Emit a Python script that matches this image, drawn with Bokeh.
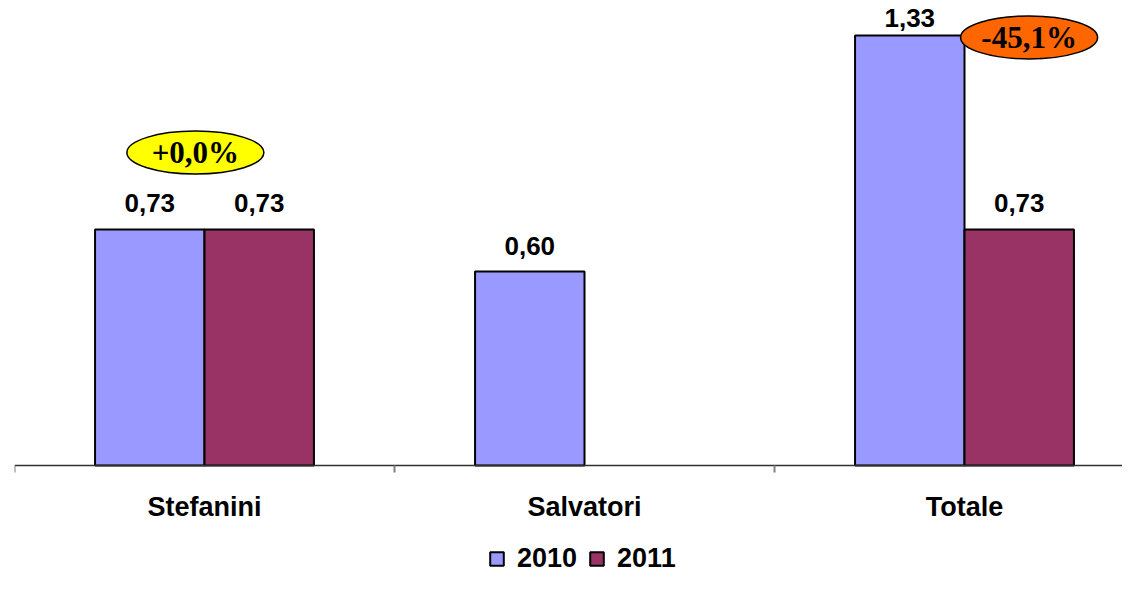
import numpy as np
from bokeh.plotting import figure
from bokeh.models import (ColumnDataSource, LinearAxis, FixedTicker, Legend,
                          LegendItem, Range1d)
from bokeh.core.properties import value
from bokeh.embed import file_html
from bokeh.resources import INLINE

# ---- data ----
categories = ["Stefanini", "Salvatori", "Totale"]
series_names = ["2010", "2011"]
values_2010 = [0.73, 0.60, 1.33]
values_2011 = [0.73, None, 0.73]
series_colors = ["#9999FF", "#993366"]
badge_colors = {"Stefanini": "#FFFF00", "Totale": "#FF6600"}

# ---- layout constants (pixels) ----
FIG_W, FIG_H = 1122, 575
BORDER_LEFT = 14
AXIS_Y_PX = 465            # screen y of the value 0 baseline
PX_PER_CAT = 380.0
PX_PER_UNIT = 323.3
frame_w = FIG_W - BORDER_LEFT
y_end = AXIS_Y_PX / PX_PER_UNIT
y_start = -(FIG_H - AXIS_Y_PX) / PX_PER_UNIT
bar_w = 0.288
off = bar_w / 2
LABEL_GAP = 26 / PX_PER_UNIT
LABEL_TOP_LIMIT = y_end - 17 / PX_PER_UNIT


def fmt(v):
    return f"{v:.2f}".replace(".", ",")


x_idx = np.arange(len(categories), dtype=float)


def label_y(v):
    return min(v + LABEL_GAP, LABEL_TOP_LIMIT)


src10 = ColumnDataSource(dict(
    x=x_idx - off, top=values_2010, label=[fmt(v) for v in values_2010],
    ly=[label_y(v) for v in values_2010]))
idx11 = [i for i, v in enumerate(values_2011) if v is not None]
src11 = ColumnDataSource(dict(
    x=[x_idx[i] + off for i in idx11],
    top=[values_2011[i] for i in idx11],
    label=[fmt(values_2011[i]) for i in idx11],
    ly=[label_y(values_2011[i]) for i in idx11]))

p = figure(width=FIG_W, height=FIG_H, output_backend="svg", toolbar_location=None,
           x_range=Range1d(-0.5, -0.5 + frame_w / PX_PER_CAT),
           y_range=Range1d(y_start, y_end),
           x_axis_location=None, y_axis_location=None,
           min_border_left=BORDER_LEFT, min_border_right=0,
           min_border_top=0, min_border_bottom=0)
p.outline_line_color = None
p.xgrid.visible = False
p.ygrid.visible = False
p.background_fill_color = "white"
p.border_fill_color = "white"

r10 = p.vbar(x="x", top="top", width=bar_w, bottom=0, source=src10,
             fill_color=series_colors[0], line_color="#000000", line_width=2)
r11 = p.vbar(x="x", top="top", width=bar_w, bottom=0, source=src11,
             fill_color=series_colors[1], line_color="#000000", line_width=2)

label_font = value("Liberation Sans")
for src in (src10, src11):
    p.text(x="x", y="ly", text="label", source=src, text_align="center",
           text_baseline="alphabetic", text_font=label_font,
           text_font_size="26px", text_font_style="bold", text_color="#000000")

# ---- change badges ----
bx, by, btxt, bcol = [], [], [], []
for i, cat in enumerate(categories):
    a, b = values_2010[i], values_2011[i]
    if b is None:
        continue
    pct = (b - a) / a * 100
    s = f"{pct:+.1f}%".replace(".", ",")
    if abs(pct) < 0.05:
        s = "+0,0%"
        bx.append(x_idx[i] - 0.024)
        by.append(max(a, b) + 0.238)
    else:
        bx.append(x_idx[i] + off + 0.026)
        by.append(max(a, b) - 0.006)
    btxt.append(s)
    bcol.append(badge_colors[cat])

bsrc = ColumnDataSource(dict(x=bx, y=by, text=btxt, color=bcol))
p.ellipse(x="x", y="y", width=137, height=43, width_units="screen",
          height_units="screen", source=bsrc, fill_color="color",
          line_color="#000000", line_width=1.5)
p.text(x="x", y="y", text="text", source=bsrc, text_align="center",
       text_baseline="middle", text_font=value("Liberation Serif"),
       text_font_size="31px", text_font_style="bold", text_color="#000000")

# ---- x axis (drawn at value 0 inside the plot area) ----
ticker = FixedTicker(ticks=list(x_idx),
                     minor_ticks=[i - 0.5 for i in range(len(categories) + 1)])
xaxis = LinearAxis(ticker=ticker, fixed_location=0)
xaxis.major_label_overrides = {float(i): c for i, c in enumerate(categories)}
xaxis.major_label_overrides.update({int(i): c for i, c in enumerate(categories)})
xaxis.axis_line_color = "#303030"
xaxis.axis_line_width = 1.5
xaxis.major_tick_line_color = None
xaxis.major_tick_out = 0
xaxis.major_tick_in = 0
xaxis.minor_tick_line_color = "#808080"
xaxis.minor_tick_line_width = 2
xaxis.minor_tick_out = 7
xaxis.minor_tick_in = 0
xaxis.major_label_standoff = 19
xaxis.major_label_text_font = "Liberation Sans"
xaxis.major_label_text_font_size = "27px"
xaxis.major_label_text_font_style = "bold"
xaxis.major_label_text_color = "#000000"
p.add_layout(xaxis, "below")

# ---- legend ----
legend = Legend(items=[LegendItem(label=series_names[0], renderers=[r10]),
                       LegendItem(label=series_names[1], renderers=[r11])],
                orientation="horizontal", location=(488 - BORDER_LEFT, 1))
legend.glyph_width = 17
legend.glyph_height = 17
legend.label_standoff = 12
legend.spacing = 11
legend.padding = 0
legend.margin = 0
legend.border_line_color = None
legend.background_fill_alpha = 0
legend.label_text_font = "Liberation Sans"
legend.label_text_font_size = "27px"
legend.label_text_font_style = "bold"
legend.label_text_color = "#000000"
p.add_layout(legend, "center")

open("out.html", "w").write(file_html(p, INLINE))
